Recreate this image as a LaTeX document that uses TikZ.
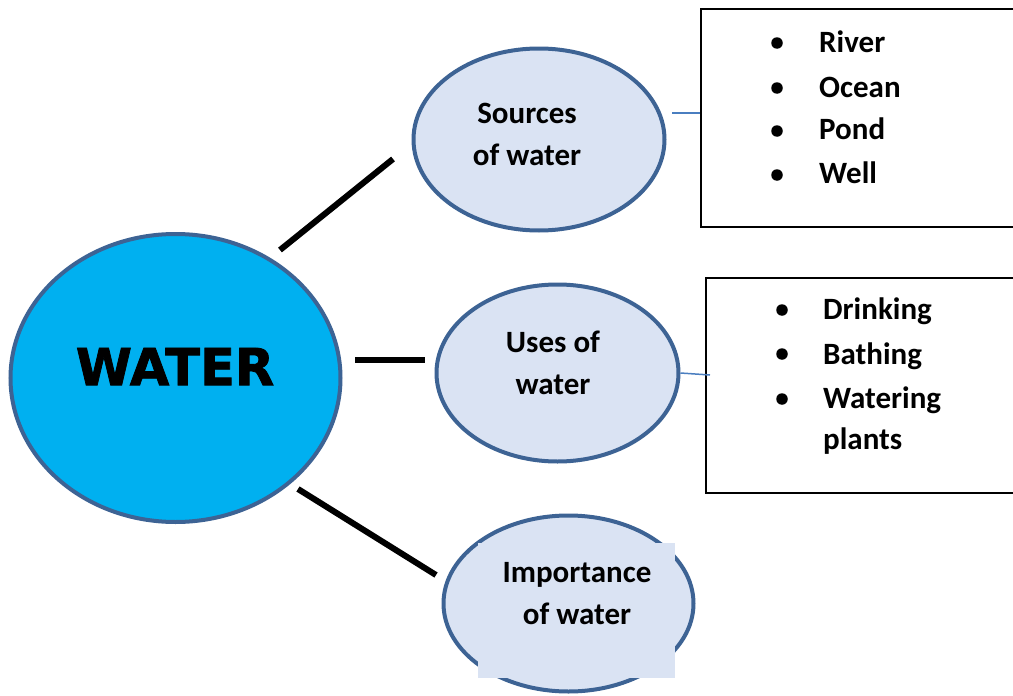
\documentclass[tikz,border=0pt]{standalone}
\usepackage{fontspec}
\setmainfont{Carlito}
\newfontfamily\wfont[BoldFeatures={FakeBold=1.6}]{DejaVu Sans}
\usetikzlibrary{shapes.geometric}
\definecolor{wblue}{HTML}{00B0F0}
\definecolor{edgeblue}{HTML}{3D6394}
\definecolor{pale}{HTML}{DAE3F3}
\definecolor{thinblue}{HTML}{4A7EC0}
\begin{document}
\begin{tikzpicture}[x=1pt,y=-1pt,
  bub/.style={ellipse, draw=edgeblue, line width=4, fill=pale, inner sep=0},
  lbl/.style={font=\fontsize{31}{42}\selectfont\bfseries, align=center, inner sep=0},
  item/.style={font=\fontsize{31}{36}\selectfont\bfseries, anchor=base west, inner sep=0},
  bul/.style={circle, fill=black, inner sep=0, minimum size=11.5},
  conn/.style={line width=6, black},
  connshadow/.style={line width=6, black!30, opacity=0.5},
  link/.style={line width=1.5, thinblue},
  listbox/.style={draw=black, line width=2, rectangle, inner sep=0, anchor=north west}]
\useasboundingbox (0,0) rectangle (1013,696);
\clip (0,0) rectangle (1013,696);
\fill[white] (0,0) rectangle (1013,696);

% main bubble
\node[ellipse, draw=edgeblue, line width=4, fill=wblue, inner sep=0,
      minimum width=330, minimum height=288] (water) at (175.5,378) {};
\node[font=\wfont\bfseries\fontsize{51}{51}\selectfont, inner sep=0] (wlbl) at (175,366.5) {WATER};

% child bubbles
\node[bub, minimum width=251, minimum height=182] (srcs) at (539,139.5) {};
\node[lbl] (srcslbl) at (527,134) {Sources\\of water};

\node[bub, minimum width=242, minimum height=177] (uses) at (557.5,373) {};
\node[lbl] (useslbl) at (553,363) {Uses of\\water};

\node[bub, minimum width=250, minimum height=176] (imp) at (568.5,603.5) {};
\fill[pale] (478,543) rectangle (675,678);
\node[lbl] (implbl) at (577,594) {Importance\\of water};

% list boxes
\node[listbox, minimum width=340, minimum height=218] (srcbox) at (700,8) {};
\node[listbox, minimum width=340, minimum height=215] (usebox) at (705,277) {};

% items box 1
\node[bul] (b1) at (777,43) {};
\node[item] (i1) at (819,52) {River};
\node[bul] (b2) at (777,88) {};
\node[item] (i2) at (819,97) {Ocean};
\node[bul] (b3) at (777,131) {};
\node[item] (i3) at (819,139) {Pond};
\node[bul] (b4) at (777,175) {};
\node[item] (i4) at (819,183) {Well};

% items box 2
\node[bul] (d1) at (782,310) {};
\node[item] (j1) at (823,319) {Drinking};
\node[bul] (d2) at (782,354) {};
\node[item] (j2) at (823,364) {Bathing};
\node[bul] (d3) at (782,399) {};
\node[item] (j3) at (823,408) {Watering};
\node[item] (j4) at (823,449) {plants};

% connectors
\coordinate (c1a) at (280,250);
\coordinate (c1b) at (393,159);
\coordinate (c2a) at (355,360);
\coordinate (c2b) at (425,360);
\coordinate (c3a) at (298,489);
\coordinate (c3b) at (436,575);
\begin{scope}[shift={(2,3)}]
\draw[connshadow] (c1a) -- (c1b);
\draw[connshadow] (c2a) -- (c2b);
\draw[connshadow] (c3a) -- (c3b);
\end{scope}
\draw[conn] (c1a) -- (c1b);
\draw[conn] (c2a) -- (c2b);
\draw[conn] (c3a) -- (c3b);

\coordinate (l1) at (672,113);
\draw[link] (l1) -- (l1 -| srcbox.west);
\coordinate (l2) at (710,375);
\draw[link] (uses.east) -- (l2);
\end{tikzpicture}
\end{document}
